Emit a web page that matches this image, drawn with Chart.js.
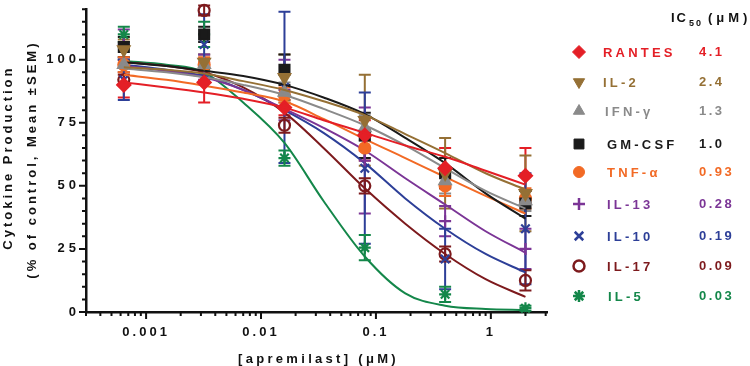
<!DOCTYPE html>
<html>
<head>
<meta charset="utf-8">
<script src="https://cdn.jsdelivr.net/npm/chart.js@4.4.1/dist/chart.umd.min.js"></script>
<style>
  html, body { margin: 0; padding: 0; background: #fff; }
  #wrap { width: 750px; height: 366px; }
</style>
</head>
<body>
<div id="wrap"><canvas id="chart" width="750" height="366"></canvas></div>
<script>
// concentrations (uM) where the samples were measured, and where the fitted curve was read
const doses = [0.00064, 0.0032, 0.016, 0.08, 0.4, 2];
const fitDoses = [0.00064, 0.0015, 0.0032, 0.007, 0.016, 0.035, 0.08, 0.18, 0.4, 0.9, 2];

const names = ['RANTES', 'IL-2', 'IFN-γ', 'GM-CSF', 'TNF-α', 'IL-13', 'IL-10', 'IL-17', 'IL-5'];
const ic50 = ['4.1', '2.4', '1.3', '1.0', '0.93', '0.28', '0.19', '0.09', '0.03'];

const yTicks = [0, 25, 50, 75, 100];
const xTickValues = [0.001, 0.01, 0.1, 1];
const xTickLabels = ['0.001', '0.01', '0.1', '1'];

// % of control, mean and SEM
const rantesMean = [90, 91, 81, 70, 57, 54];
const rantesSem = [5, 8, 3, 6, 8, 11];
const il2Mean = [104, 99, 93, 76, 55, 47];
const il2Sem = [4, 3, 9, 18, 14, 15];
const ifnMean = [98, 98, 87, 73, 52, 44];
const ifnSem = [3, 4, 4, 5, 5, 4];
const gmcsfMean = [105, 110, 96, 70, 55, 43];
const gmcsfSem = [4, 3, 6, 9, 6, 5];
const tnfMean = [98, 98, 86, 65, 50, 45];
const tnfSem = [3, 3, 3, 5, 4, 4];
const il13Mean = [106, 97, 88, 60, 36, 25];
const il13Sem = [6, 5, 12, 21, 6, 8];
const il10Mean = [92, 106, 89, 57, 21, 33];
const il10Sem = [8, 12, 30, 30, 12, 22];
const il17Mean = [92, 119.5, 74, 50, 23, 12.5];
const il17Sem = [2, 2, 3, 3, 3, 4];
const il5Mean = [110, 110, 61, 25.5, 7, 1.5];
const il5Sem = [3, 5, 3, 5, 3, 1];

// fitted curves at fitDoses
const rantesFit = [91, 89, 87, 84.5, 81, 76, 71, 66, 61.5, 56, 50.5];
const il2Fit = [97, 96, 94.5, 91.5, 88, 83.5, 78, 70.5, 63, 55, 48.5];
const ifnFit = [96.5, 95, 93, 90, 86, 80.5, 74, 66, 57, 48, 41];
const gmcsfFit = [99, 97.5, 95.6, 93.5, 90, 85, 78.4, 69, 59, 47, 37];
const tnfFit = [94, 92, 89.7, 87, 83.5, 76.5, 68.5, 61, 53.5, 46, 39];
const il13Fit = [97.5, 95.5, 93, 88, 80.5, 73, 64, 53, 42.6, 32, 23.5];
const il10Fit = [98, 96, 93.5, 88, 80, 71, 59, 45, 33, 23, 15.7];
const il17Fit = [99, 97.5, 95, 89, 79, 65, 49, 35, 23, 13, 6];
const il5Fit = [99.5, 98, 95, 83, 67, 44, 22, 7.4, 2.5, 1.2, 0.8];

const means = [rantesMean, il2Mean, ifnMean, gmcsfMean, tnfMean, il13Mean, il10Mean, il17Mean, il5Mean];
const sems = [rantesSem, il2Sem, ifnSem, gmcsfSem, tnfSem, il13Sem, il10Sem, il17Sem, il5Sem];
const fits = [rantesFit, il2Fit, ifnFit, gmcsfFit, tnfFit, il13Fit, il10Fit, il17Fit, il5Fit];

const colors = ['#e41f26', '#957035', '#8a8a8a', '#1a1a1a', '#f26a25', '#7b3596', '#2d3f98', '#7d1a1d', '#14874a'];
const markers = ['rectRot', 'triangle', 'triangle', 'rect', 'circle', 'cross', 'crossRot', 'circle', 'star'];
const markerRot = [0, 180, 0, 0, 0, 0, 0, 0, 0];
const markerSize = [6.5, 6.5, 6.5, 7, 5.5, 6, 6, 5.5, 6];
const hollow = [false, false, false, false, false, false, false, true, false];

const FONT = 'Arial, "Liberation Sans", sans-serif';

const datasets = [];
names.forEach((n, i) => {
    datasets.push({
        type: 'line',
        label: n + ' fit',
        data: fitDoses.map((d, j) => ({ x: d, y: fits[i][j] })),
        borderColor: colors[i],
        borderWidth: 2,
        pointRadius: 0,
        cubicInterpolationMode: 'monotone',
        fill: false
    });
    datasets.push({
        type: 'scatter',
        label: n,
        data: doses.map((d, j) => ({ x: d, y: means[i][j] })),
        pointStyle: markers[i],
        rotation: markerRot[i],
        pointRadius: markerSize[i],
        backgroundColor: hollow[i] ? 'rgba(0,0,0,0)' : colors[i],
        borderColor: colors[i],
        borderWidth: 2.2,
        clip: false
    });
});

function isDecade(v) {
    return xTickValues.findIndex(t => Math.abs(v / t - 1) < 1e-6);
}

const decor = {
    id: 'decor',
    beforeDraw(chart) {
        chart.ctx.letterSpacing = '4px';   // y tick labels
    },
    beforeDatasetsDraw(chart) {
        const { ctx, scales: { x, y } } = chart;
        ctx.save();
        ctx.letterSpacing = '0px';
        ctx.lineWidth = 2;
        names.forEach((n, i) => {
            ctx.strokeStyle = colors[i];
            doses.forEach((d, j) => {
                const px = x.getPixelForValue(d);
                const top = y.getPixelForValue(means[i][j] + sems[i][j]);
                const bot = y.getPixelForValue(means[i][j] - sems[i][j]);
                ctx.beginPath();
                ctx.moveTo(px, top); ctx.lineTo(px, bot);
                ctx.moveTo(px - 6, top); ctx.lineTo(px + 6, top);
                ctx.moveTo(px - 6, bot); ctx.lineTo(px + 6, bot);
                ctx.stroke();
            });
        });
        ctx.restore();
    },
    afterDatasetsDraw(chart) {
        chart.ctx.letterSpacing = '3px';   // x tick labels
    },
    afterDraw(chart) {
        const { ctx, scales: { x, y }, chartArea } = chart;
        ctx.save();
        // tick marks
        ctx.strokeStyle = '#111';
        ctx.lineWidth = 2;
        ctx.beginPath();
        x.ticks.forEach(t => {
            const px = x.getPixelForValue(t.value);
            const len = isDecade(t.value) >= 0 ? 7 : 4;
            ctx.moveTo(px, chartArea.bottom); ctx.lineTo(px, chartArea.bottom + len);
        });
        y.ticks.forEach(t => {
            const py = y.getPixelForValue(t.value);
            const len = yTicks.includes(t.value) ? 7 : 4;
            ctx.moveTo(chartArea.left, py); ctx.lineTo(chartArea.left - len, py);
        });
        ctx.stroke();

        // axis titles
        ctx.fillStyle = '#111';
        ctx.font = 'bold 13px ' + FONT;
        ctx.textBaseline = 'middle';
        ctx.textAlign = 'center';
        ctx.letterSpacing = '3.3px';
        ctx.fillText('[apremilast] (μM)', (chartArea.left + chartArea.right) / 2 + 2, 359);
        ctx.letterSpacing = '3px';
        ctx.save();
        ctx.translate(8, (chartArea.top + chartArea.bottom) / 2 - 3);
        ctx.rotate(-Math.PI / 2);
        ctx.fillText('Cytokine Production', 0, 0);
        ctx.restore();
        ctx.save();
        ctx.translate(32, (chartArea.top + chartArea.bottom) / 2 - 1);
        ctx.rotate(-Math.PI / 2);
        ctx.fillText('(% of control, Mean ±SEM)', 0, 0);
        ctx.restore();

        // legend header
        ctx.textAlign = 'left';
        ctx.letterSpacing = '2px';
        ctx.fillText('IC', 671, 18);
        ctx.font = 'bold 9px ' + FONT;
        ctx.fillText('50', 689, 24);
        ctx.font = 'bold 13px ' + FONT;
        ctx.letterSpacing = '4px';
        ctx.fillText('(μM)', 708, 18);

        // legend rows
        const rowY = [52, 82, 111, 144, 172, 204, 236, 266, 296];
        const nameX = [603, 603, 605, 607, 607, 607, 607, 607, 608];
        names.forEach((n, i) => {
            ctx.fillStyle = hollow[i] ? 'rgba(0,0,0,0)' : colors[i];
            ctx.strokeStyle = colors[i];
            const style = markers[i];
            const lined = style === 'cross' || style === 'crossRot' || style === 'star' || hollow[i];
            ctx.lineWidth = lined ? 2.5 : 1;
            Chart.helpers.drawPoint(ctx, { pointStyle: style, rotation: markerRot[i], radius: markerSize[i], borderWidth: ctx.lineWidth }, 579, rowY[i]);
            ctx.fillStyle = colors[i];
            ctx.font = 'bold 13px ' + FONT;
            ctx.letterSpacing = '3.2px';
            ctx.fillText(n, nameX[i], rowY[i] + 1);
            ctx.letterSpacing = '2.5px';
            ctx.fillText(ic50[i], 699, rowY[i]);
        });
        ctx.restore();
        ctx.letterSpacing = '0px';
    }
};

new Chart(document.getElementById('chart'), {
    type: 'scatter',
    data: { datasets: datasets },
    options: {
        responsive: false,
        animation: false,
        layout: { padding: { top: 5, right: 203, left: 0, bottom: 0 } },
        plugins: { legend: { display: false }, tooltip: { enabled: false } },
        scales: {
            x: {
                type: 'logarithmic',
                min: 0.000325,
                max: 3.08,
                grid: { display: false },
                border: { color: '#111', width: 2.5 },
                afterBuildTicks: s => {
                    const ticks = [];
                    for (let e = -4; e <= 0; e++) {
                        for (let m = 1; m <= 9; m++) {
                            const v = m * Math.pow(10, e);
                            if (v >= s.min && v <= s.max) ticks.push({ value: v });
                        }
                    }
                    s.ticks = ticks;
                },
                afterFit: s => { s.height = 54; },
                ticks: {
                    z: 1,
                    autoSkip: false,
                    maxRotation: 0,
                    padding: 5,
                    color: '#111',
                    font: { family: FONT, size: 13, weight: 'bold' },
                    callback: v => {
                        const k = isDecade(v);
                        return k >= 0 ? xTickLabels[k] : '';
                    }
                }
            },
            y: {
                min: 0,
                max: 120,
                grid: { display: false },
                border: { color: '#111', width: 2.5 },
                afterBuildTicks: s => {
                    const ticks = [];
                    for (let v = 0; v <= 120; v += 5) ticks.push({ value: v });
                    s.ticks = ticks;
                },
                afterFit: s => { s.width = 86; },
                ticks: {
                    autoSkip: false,
                    padding: -2,
                    color: '#111',
                    font: { family: FONT, size: 13, weight: 'bold' },
                    callback: v => yTicks.includes(v) ? String(v) : ''
                }
            }
        }
    },
    plugins: [decor]
});
</script>
</body>
</html>
